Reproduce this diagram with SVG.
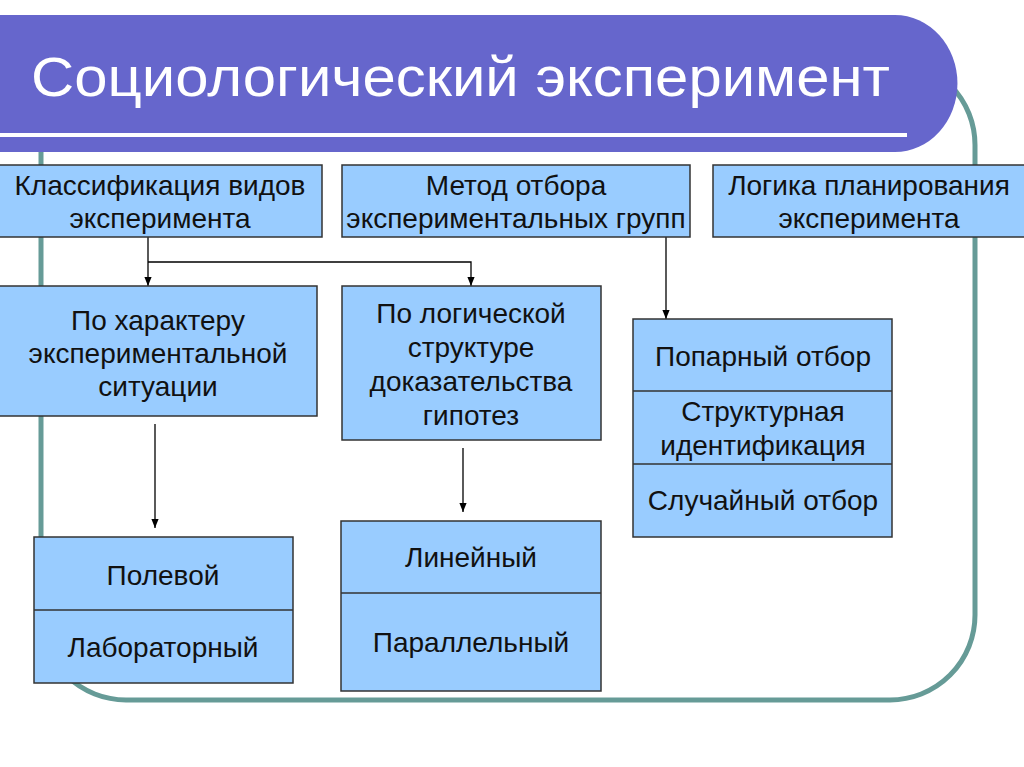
<svg xmlns="http://www.w3.org/2000/svg" width="1024" height="767" viewBox="0 0 1024 767">
<style>
.box{fill:#99ccff;stroke:#333;stroke-width:1.5}
.div{stroke:#333;stroke-width:1.5;fill:none}
.t{font-family:"Liberation Sans",Arial,sans-serif;font-size:28px;fill:#111;text-anchor:middle}
.c{stroke:#000;stroke-width:1.3;fill:none}
</style>
<defs>
<marker id="ah" viewBox="0 0 10 10" refX="10" refY="5" markerWidth="9" markerHeight="9" markerUnits="userSpaceOnUse" orient="auto">
<path d="M0,1 L10,5 L0,9 z" fill="#000"/>
</marker>
</defs>
<rect width="1024" height="767" fill="#fff"/>
<rect x="41" y="60" width="934" height="640" rx="85" ry="85" fill="none" stroke="#669b97" stroke-width="5"/>
<g id="banner">
<path d="M0,15 H895 A62,68 0 0 1 895,152 H0 z" fill="#6666cc"/>
<rect x="0" y="133" width="907" height="4" fill="#fff"/>
<text x="31" y="96" font-family="&quot;Liberation Sans&quot;,Arial,sans-serif" font-size="56" fill="#fff" textLength="859" lengthAdjust="spacingAndGlyphs">Социологический эксперимент</text>
</g>
<g id="connectors">
<path class="c" d="M148,237 V286" marker-end="url(#ah)"/>
<path class="c" d="M148,262 H471 V286" marker-end="url(#ah)"/>
<path class="c" d="M666,237 V319" marker-end="url(#ah)"/>
<path class="c" d="M155,424 V528" marker-end="url(#ah)"/>
<path class="c" d="M463,448 V512" marker-end="url(#ah)"/>
</g>
<g id="n1">
<rect class="box" x="-2" y="165" width="324" height="72"/>
<text class="t" x="160" y="195">Классификация видов</text>
<text class="t" x="160" y="228">эксперимента</text>
</g>
<g id="n2">
<rect class="box" x="342" y="165" width="348" height="72"/>
<text class="t" x="516" y="195">Метод отбора</text>
<text class="t" x="516" y="228">экспериментальных групп</text>
</g>
<g id="n3">
<rect class="box" x="713" y="165" width="320" height="72"/>
<text class="t" x="869" y="195">Логика планирования</text>
<text class="t" x="869" y="228">эксперимента</text>
</g>
<g id="n4">
<rect class="box" x="-2" y="286" width="319" height="130"/>
<text class="t" x="158" y="330">По характеру</text>
<text class="t" x="158" y="363">экспериментальной</text>
<text class="t" x="158" y="396">ситуации</text>
</g>
<g id="n5">
<rect class="box" x="342" y="286" width="259" height="154"/>
<text class="t" x="471" y="323">По логической</text>
<text class="t" x="471" y="357">структуре</text>
<text class="t" x="471" y="391">доказательства</text>
<text class="t" x="471" y="425">гипотез</text>
</g>
<g id="n6">
<rect class="box" x="633" y="319" width="259" height="218"/>
<path class="div" d="M633,391 H892 M633,464 H892"/>
<text class="t" x="763" y="366">Попарный отбор</text>
<text class="t" x="763" y="421">Структурная</text>
<text class="t" x="763" y="455">идентификация</text>
<text class="t" x="763" y="510">Случайный отбор</text>
</g>
<g id="n7">
<rect class="box" x="34" y="537" width="259" height="146"/>
<path class="div" d="M34,610 H293"/>
<text class="t" x="163" y="585">Полевой</text>
<text class="t" x="163" y="657">Лабораторный</text>
</g>
<g id="n8">
<rect class="box" x="341" y="521" width="260" height="170"/>
<path class="div" d="M341,593 H601"/>
<text class="t" x="471" y="567">Линейный</text>
<text class="t" x="471" y="652">Параллельный</text>
</g>
</svg>
